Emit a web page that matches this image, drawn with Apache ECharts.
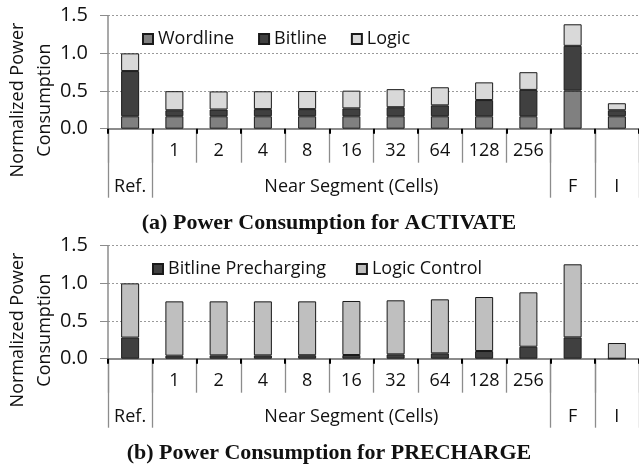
<!DOCTYPE html>
<html><head><meta charset="utf-8">
<script src="https://cdn.jsdelivr.net/npm/echarts@6/dist/echarts.min.js"></script>
<style>html,body{margin:0;padding:0;background:#fff}#c{width:639px;height:464px}</style>
</head><body><div id="c"></div>
<script>
const categories = ['Ref.','1','2','4','8','16','32','64','128','256','F','I'];
const tickLabels = ['', '1','2','4','8','16','32','64','128','256','',''];
const groupLabels = ['Ref.','','','','','Near Segment (Cells)','','','','','F','I'];
const yTicks = [0, 0.5, 1.0, 1.5];

// (a) ACTIVATE
const wordline = [0.165,0.165,0.165,0.165,0.165,0.165,0.165,0.165,0.165,0.165,0.505,0.165];
const bitline  = [0.60,0.08,0.09,0.095,0.095,0.105,0.12,0.145,0.215,0.35,0.595,0.08];
const logic    = [0.235,0.253,0.24,0.237,0.24,0.235,0.24,0.24,0.235,0.235,0.286,0.093];

// (b) PRECHARGE
const bitlinePre   = [0.28,0.04,0.044,0.044,0.046,0.049,0.058,0.071,0.102,0.159,0.283,0];
const logicControl = [0.72,0.721,0.717,0.717,0.715,0.717,0.717,0.717,0.717,0.722,0.97,0.208];

const FONT = 'Open Sans';
const TXT = '#111';
const groupBoundary = [0,1,10,11];

const grids = [
  {left:108, width:532, top:15.7, height:113},
  {left:108, width:532, top:245.7, height:113}
];

function xAxesFor(g){
  return [
    {type:'category', gridIndex:g, data:categories, position:'bottom',
     axisLine:{show:true, lineStyle:{color:'#8c8c8c', width:2}},
     axisTick:{show:true, length:34, interval:0, lineStyle:{color:'#8c8c8c', width:1.3}},
     axisLabel:{interval:0, margin:13, fontFamily:FONT, fontSize:18, color:TXT, lineHeight:18,
       formatter:(v,i)=>tickLabels[i]}},
    {type:'category', gridIndex:g, data:categories, position:'bottom',
     axisLine:{show:false},
     axisTick:{show:true, length:69, interval:(i)=>groupBoundary.indexOf(i)>=0, lineStyle:{color:'#8c8c8c', width:1.3}},
     axisLabel:{interval:0, margin:49, fontFamily:FONT, fontSize:18, color:TXT, lineHeight:18,
       formatter:(v,i)=>groupLabels[i]}},
    {type:'category', gridIndex:g, data:categories, position:'bottom',
     axisLine:{show:false},
     axisTick:{show:true, length:5, interval:0, lineStyle:{color:'#000', width:2}},
     axisLabel:{show:false}}
  ];
}
function yAxisFor(g){
  return {type:'value', gridIndex:g, min:0, max:1.5, interval:0.5,
    axisLine:{show:true, lineStyle:{color:'#8c8c8c', width:1.5}},
    axisTick:{show:true, length:8, lineStyle:{color:'#8c8c8c'}},
    splitLine:{show:true, lineStyle:{color:'#9a9a9a', type:[2,2], width:1}},
    axisLabel:{margin:20, fontFamily:FONT, fontSize:20, color:TXT,
      formatter:(v)=>yTicks.includes(v)?v.toFixed(1):''}};
}
function bar(name, data, color, g, stack){
  return {name, type:'bar', stack, data, xAxisIndex:g*3, yAxisIndex:g, barWidth:18,
    itemStyle:{color, borderColor:'#1a1a1a', borderWidth:1}, emphasis:{disabled:true}, animation:false};
}

const chart = echarts.init(document.getElementById('c'), null, {renderer:'canvas'});
chart.setOption({
  animation:false,
  title:[
    {text:'(a) Power Consumption for ACTIVATE', left:324, textAlign:'center', top:207,
     textStyle:{fontFamily:'Liberation Serif', fontWeight:'bold', fontSize:22, color:'#111'}},
    {text:'(b) Power Consumption for PRECHARGE', left:324, textAlign:'center', top:437,
     textStyle:{fontFamily:'Liberation Serif', fontWeight:'bold', fontSize:22, color:'#111'}}
  ],
  legend:[
    {data:['Wordline','Bitline','Logic'], left:137, top:25, icon:'rect', itemWidth:10, itemHeight:10,
     itemGap:24, textStyle:{fontFamily:FONT, fontSize:18, color:TXT}},
    {data:['Bitline Precharging','Logic Control'], left:147, top:255, icon:'rect', itemWidth:10, itemHeight:10,
     itemGap:30, textStyle:{fontFamily:FONT, fontSize:18, color:TXT}}
  ],
  grid:grids,
  xAxis:[...xAxesFor(0), ...xAxesFor(1)],
  yAxis:[yAxisFor(0), yAxisFor(1)],
  graphic:[
    {type:'text', x:31, y:100, rotation:Math.PI/2, style:{text:'Normalized Power\nConsumption', fontFamily:FONT, fontSize:18, lineHeight:27, fill:TXT, align:'center', verticalAlign:'middle'}},
    {type:'text', x:31, y:330, rotation:Math.PI/2, style:{text:'Normalized Power\nConsumption', fontFamily:FONT, fontSize:18, lineHeight:27, fill:TXT, align:'center', verticalAlign:'middle'}}
  ],
  series:[
    bar('Wordline', wordline, '#808080', 0, 'a'),
    bar('Bitline', bitline, '#404040', 0, 'a'),
    bar('Logic', logic, '#d9d9d9', 0, 'a'),
    bar('Bitline Precharging', bitlinePre, '#404040', 1, 'b'),
    bar('Logic Control', logicControl, '#bfbfbf', 1, 'b')
  ]
});
</script></body></html>
